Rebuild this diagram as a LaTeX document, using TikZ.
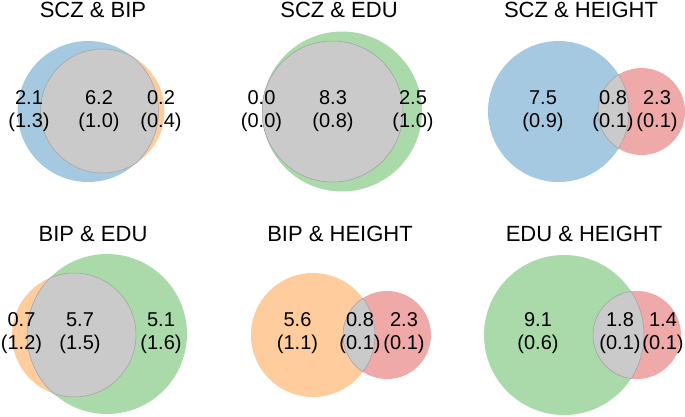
\documentclass[tikz,border=0pt]{standalone}
\usepackage{fontspec}
\setmainfont{Liberation Sans}
\usepackage{xcolor}
\usepackage{tikz}
\usetikzlibrary{positioning}
\definecolor{venn-blue}{HTML}{A5C9E1}
\definecolor{venn-orange}{HTML}{FFCC9E}
\definecolor{venn-green}{HTML}{AAD9AA}
\definecolor{venn-red}{HTML}{EFA9A9}
\definecolor{venn-gray}{HTML}{CACACA}
\definecolor{venn-edge}{HTML}{A0A0A0}

% overlap of two circles: x1,y1,r1,x2,y2,r2
\newcommand{\vennmeet}[6]{%
    \begin{scope}
        \clip (#1,#2) circle (#3pt);
        \fill[venn-gray] (#4,#5) circle (#6pt);
        \draw[meetedge] (#4,#5) circle (#6pt);
    \end{scope}
    \begin{scope}
        \clip (#4,#5) circle (#6pt);
        \draw[meetedge] (#1,#2) circle (#3pt);
    \end{scope}
}

\tikzset{
    meetedge/.style={draw=venn-edge, line width=0.5pt},
    venntitle/.style={anchor=base, inner sep=0pt, font=\fontsize{22}{25}\selectfont},
    venncount/.style={align=center, inner sep=0pt, font=\fontsize{20}{23}\selectfont}
}

\begin{document}
\begin{tikzpicture}[x=1pt, y=-1pt]
    \useasboundingbox (0,0) rectangle (685,416);

    % SCZ & BIP
    \fill[venn-blue] (88,111.5) circle (70.5pt);
    \fill[venn-orange] (102.5,111) circle (62pt);
    \vennmeet{88}{111.5}{70.5}{102.5}{111}{62}
    \node (sbTitle) [venntitle] at (93,17) {SCZ \& BIP};
    \node (sbLeft) [venncount] at (29,111.5) {2.1\\(1.3)};
    \node (sbMid) [venncount] at (99,111.5) {6.2\\(1.0)};
    \node (sbRight) [venncount] at (161,111.5) {0.2\\(0.4)};

    % SCZ & EDU
    \fill[venn-green] (342,111.5) circle (80pt);
    \fill[venn-blue] (332.5,111.5) circle (70.5pt);
    \vennmeet{332.5}{111.5}{70.5}{342}{111.5}{80}
    \node (seTitle) [venntitle] at (339,17) {SCZ \& EDU};
    \node (seLeft) [venncount] at (261.5,111.5) {0.0\\(0.0)};
    \node (seMid) [venncount] at (333,111.5) {8.3\\(0.8)};
    \node (seRight) [venncount] at (413,111.5) {2.5\\(1.0)};

    % SCZ & HEIGHT
    \fill[venn-blue] (558.5,111.5) circle (70.5pt);
    \fill[venn-red] (641.5,111.5) circle (43.5pt);
    \vennmeet{558.5}{111.5}{70.5}{641.5}{111.5}{43.5}
    \node (shTitle) [venntitle] at (581,17) {SCZ \& HEIGHT};
    \node (shLeft) [venncount] at (543,111.5) {7.5\\(0.9)};
    \node (shMid) [venncount] at (613,111.5) {0.8\\(0.1)};
    \node (shRight) [venncount] at (657,111.5) {2.3\\(0.1)};

    % BIP & EDU
    \fill[venn-orange] (74,335) circle (62pt);
    \fill[venn-green] (107,334) circle (80pt);
    \vennmeet{74}{335}{62}{107}{334}{80}
    \node (beTitle) [venntitle] at (93,241) {BIP \& EDU};
    \node (beLeft) [venncount] at (21.5,333.5) {0.7\\(1.2)};
    \node (beMid) [venncount] at (80,333.5) {5.7\\(1.5)};
    \node (beRight) [venncount] at (161,333.5) {5.1\\(1.6)};

    % BIP & HEIGHT
    \fill[venn-orange] (313,335) circle (62pt);
    \fill[venn-red] (387,335) circle (44pt);
    \vennmeet{313}{335}{62}{387}{335}{44}
    \node (bhTitle) [venntitle] at (340,241) {BIP \& HEIGHT};
    \node (bhLeft) [venncount] at (297.5,333.5) {5.6\\(1.1)};
    \node (bhMid) [venncount] at (360,333.5) {0.8\\(0.1)};
    \node (bhRight) [venncount] at (404,333.5) {2.3\\(0.1)};

    % EDU & HEIGHT
    \fill[venn-green] (564,335) circle (80pt);
    \fill[venn-red] (637,335) circle (44pt);
    \vennmeet{564}{335}{80}{637}{335}{44}
    \node (ehTitle) [venntitle] at (584,241) {EDU \& HEIGHT};
    \node (ehLeft) [venncount] at (538,333.5) {9.1\\(0.6)};
    \node (ehMid) [venncount] at (620,333.5) {1.8\\(0.1)};
    \node (ehRight) [venncount] at (663,333.5) {1.4\\(0.1)};
\end{tikzpicture}
\end{document}
